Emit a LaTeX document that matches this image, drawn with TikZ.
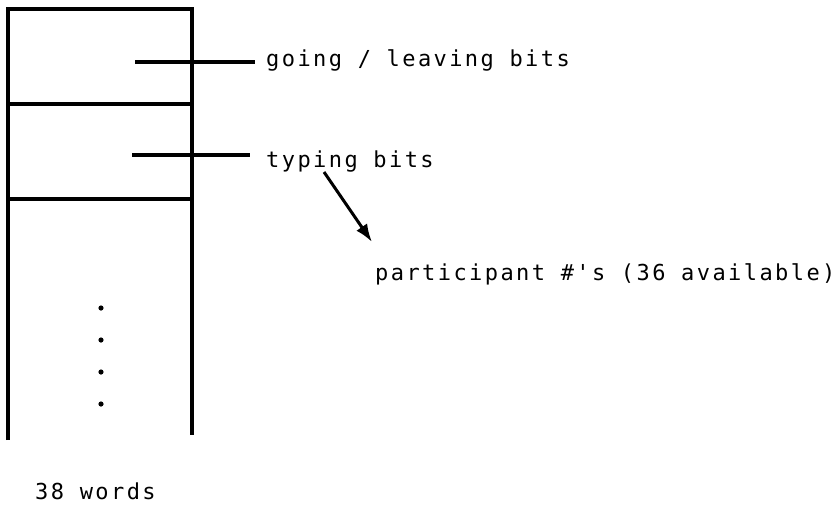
\documentclass[tikz,border=0pt]{standalone}
\usepackage{fontspec}
\usetikzlibrary{arrows.meta}
\newfontfamily\typefont[LetterSpace=11,Ligatures=TeXOff]{DejaVu Sans Mono}
\tikzset{>=Latex}
\tikzset{
  typed/.style={anchor=base west,inner sep=0pt,font=\typefont\fontsize{22}{26}\selectfont},
  rule/.style={line width=3.6pt}
}

\begin{document}
\begin{tikzpicture}[x=1pt,y=-1pt]
\useasboundingbox (0,0) rectangle (835,506);
\draw[rule] (8,440) -- (8,9) -- (192,9) -- (192,435);
\draw[rule] (8,104) -- (192,104) (8,199) -- (192,199);
\foreach \y in {308,340,372,404} \fill (101,\y) circle (2.6pt);
\node[typed] (going) at (266,66) {going / leaving bits};
\node[typed] (typing) at (266,167) {typing bits};
\node[typed] (part) at (375,280) {participant \#'s (36 available)};
\node[typed] (words) at (35,499) {38 words};
\coordinate (g0) at (135,62);
\coordinate (g1) at (255,62);
\coordinate (t0) at (132,155);
\coordinate (t1) at (250,155);
\coordinate (a0) at (324,172);
\coordinate (a1) at (372,242);
\draw[rule] (g0) -- (g1);
\draw[rule] (t0) -- (t1);
\draw[->,line width=3pt,arrows={-Latex[length=18pt,width=13pt]}] (a0) -- (a1);
\end{tikzpicture}
\end{document}
